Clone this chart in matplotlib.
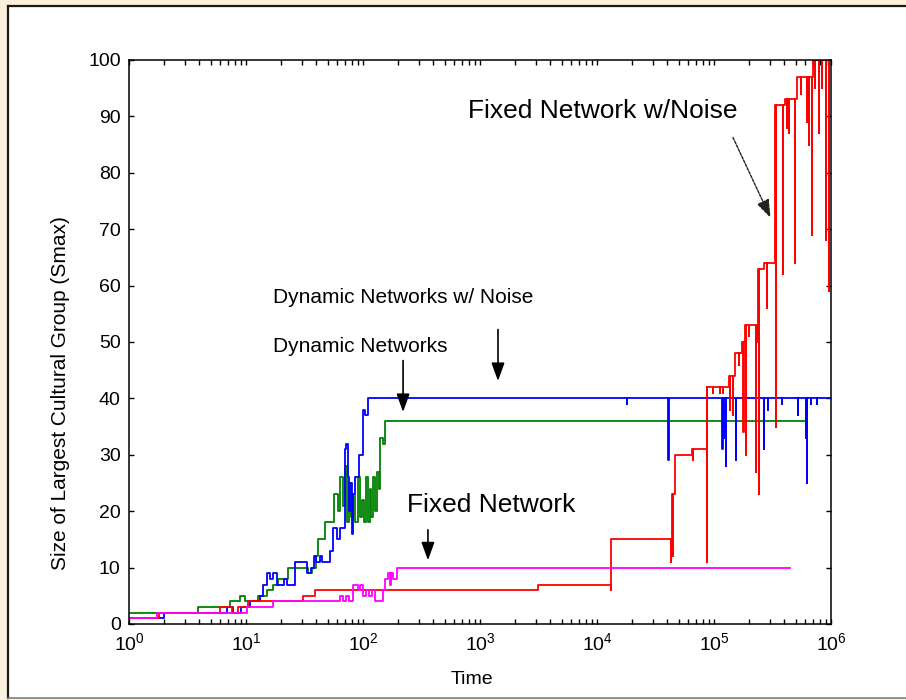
import numpy as np
import matplotlib
matplotlib.use("Agg")
import matplotlib.pyplot as plt
from matplotlib.patches import Rectangle
from matplotlib.lines import Line2D
from matplotlib.ticker import FixedLocator, NullFormatter

# ---- data (time, size of largest group) ----
green_t = [1, 3.9, 7.3, 8.9, 9.8, 12.7, 15, 17, 18.6, 22.8, 34, 37, 40, 41, 47, 57, 61, 64, 67, 70,
           73, 76, 79, 82, 86, 90, 94, 98, 102, 106, 110, 114, 118, 122, 126, 131, 136, 141, 148, 154]
green_v = [2, 3, 4, 5, 4, 5, 6, 7, 8, 10, 9, 10, 12, 15, 18, 23, 20, 26, 21, 28,
           18, 25, 19, 23, 18, 26, 19, 22, 18, 26, 18, 24, 19, 26, 20, 27, 24, 33, 32, 36]
green_end = 6.2e5

blue_t = [1, 2, 6.9, 7.8, 9, 10.8, 13.1, 14, 15, 16, 17, 18.5, 21, 22.5, 26.3, 33, 36, 38, 40, 43,
          45, 52, 55, 60, 64, 70, 72, 74, 76, 78, 80, 82, 86, 92, 100, 104, 110]
blue_v = [1, 2, 3, 2, 3, 4, 5, 7, 9, 8, 9, 7, 8, 7, 11, 9, 10, 12, 11, 12,
          11, 13, 17, 15, 17, 31, 32, 26, 20, 25, 16, 23, 26, 30, 38, 37, 40]
blue_dip_t = [1.8e4, 4.07e4, 1.18e5, 1.22e5, 1.26e5, 1.54e5, 2.65e5, 2.87e5, 3.78e5, 5.19e5,
              6.1e5, 6.25e5, 6.75e5, 7.6e5]
blue_dip_v = [39, 29, 31, 33, 28, 29, 31, 38, 39, 37, 33, 25, 39, 39]
blue_end = 1e6

red_t = [1, 1.8, 6.0, 7.6, 8.5, 10.4, 30.6, 39, 3150, 13300, 44000, 46000, 64900, 86500,
         1.35e5, 1.51e5, 1.73e5, 1.84e5, 2.39e5, 2.7e5, 3.32e5, 4.05e5, 5.08e5, 7.07e5]
red_v = [1, 2, 3, 2, 3, 4, 5, 6, 7, 15, 23, 30, 31, 42, 44, 48, 50, 53, 63, 64, 92, 93, 97, 100]
red_dip_t = [1.31e4, 4.3e4, 4.45e4, 6.6e4, 8.75e4, 9.75e4, 1.12e5, 1.2e5, 1.37e5, 1.45e5,
             1.62e5, 1.78e5, 1.88e5, 2.0e5, 2.27e5, 2.35e5, 2.42e5, 2.85e5, 3.36e5, 3.9e5,
             4.2e5, 4.35e5, 4.9e5, 5.5e5, 6.25e5, 6.45e5, 6.9e5, 7.3e5, 7.9e5, 8.4e5,
             9.0e5, 9.65e5]
red_dip_v = [6, 11, 12, 29, 11, 41, 41, 41, 38, 37,
             46, 34, 30, 51, 27, 50, 23, 56, 35, 62,
             88, 87, 64, 94, 89, 85, 69, 95, 87, 95,
             68, 59]
red_end = 1e6

mag_t = [1, 1.73, 10.1, 16.9, 63, 68, 72, 76, 82, 90, 95, 100, 106, 112, 120, 126, 148, 155,
         163, 170, 175, 182, 194]
mag_v = [1, 2, 3, 4, 5, 4, 5, 4, 7, 6, 7, 5, 6, 5, 6, 4, 6, 8, 9, 7, 9, 8, 10]
mag_end = 4.47e5

xticks = [1e0, 1e1, 1e2, 1e3, 1e4, 1e5, 1e6]
yticks = list(range(0, 101, 10))


def steps(ts, vs, t_end, dip_t=(), dip_v=()):
    # step curve with short dips back to the current level
    pts = list(zip(ts, vs))
    for td, vd in zip(dip_t, dip_v):
        i = np.searchsorted(ts, td, side="right") - 1
        pts += [(td, vd), (td * 1.004, vs[i])]
    pts.sort()
    t = [p[0] for p in pts] + [t_end]
    v = [p[1] for p in pts] + [pts[-1][1]]
    return t, v


plt.rcParams["font.family"] = ["Liberation Sans", "DejaVu Sans"]

W, H = 906, 700
fig = plt.figure(figsize=(W / 100, H / 100), dpi=100, facecolor="#FAF0DC")

# white panel with a dark frame on top/left
fig.add_artist(Rectangle((8 / W, 2 / H), 1, 1 - 8 / H, transform=fig.transFigure,
                         facecolor="white", edgecolor="none", zorder=0))
fig.add_artist(Line2D([8 / W, 1], [1 - 6 / H, 1 - 6 / H], transform=fig.transFigure,
                      color="#1a1a1a", lw=1.6))
fig.add_artist(Line2D([8 / W, 8 / W], [2 / H, 1 - 6 / H], transform=fig.transFigure,
                      color="#1a1a1a", lw=1.6))
fig.add_artist(Line2D([8 / W, 1], [2 / H, 2 / H], transform=fig.transFigure,
                      color="#808080", lw=1.2))

ax = fig.add_axes([129 / W, 1 - 624 / H, 702 / W, 564 / H])
ax.set_facecolor("white")

lw = 1.3
t, v = steps(green_t, green_v, green_end)
ax.plot(t, v, drawstyle="steps-post", color="#008000", lw=lw)
t, v = steps(blue_t, blue_v, blue_end, blue_dip_t, blue_dip_v)
ax.plot(t, v, drawstyle="steps-post", color="#0000FF", lw=lw)
t, v = steps(red_t, red_v, red_end, red_dip_t, red_dip_v)
ax.plot(t, v, drawstyle="steps-post", color="#FF0000", lw=lw)
t, v = steps(mag_t, mag_v, mag_end)
ax.plot(t, v, drawstyle="steps-post", color="#FF00FF", lw=lw)

ax.set_xscale("log")
ax.set_xlim(1, 1e6)
ax.set_ylim(0, 100)
ax.set_xticks(xticks)
ax.set_yticks(yticks)
minors = [m * d for d in xticks[:-1] for m in range(2, 10)]
ax.xaxis.set_minor_locator(FixedLocator(minors))
ax.xaxis.set_minor_formatter(NullFormatter())
ax.tick_params(which="both", direction="in", top=True, right=True, length=3.8, width=1.0,
               labelsize=14, colors="black")
ax.tick_params(axis="x", pad=6)
ax.tick_params(axis="y", pad=6)
for s in ax.spines.values():
    s.set_linewidth(1.1)

ax.set_xlabel("Time", fontsize=14, va="center")
ax.xaxis.set_label_coords(0.489, -0.098)
ax.set_ylabel("Size of Largest Cultural Group (Smax)", fontsize=15, va="center")
ax.yaxis.set_label_coords(-0.098, 0.41)

# annotations
ax.text(789, 89.7, "Fixed Network w/Noise", fontsize=19, ha="left", va="baseline")
ax.text(238, 19.9, "Fixed Network", fontsize=19, ha="left", va="baseline")
ax.text(17, 56.9, "Dynamic Networks w/ Noise", fontsize=15, ha="left", va="baseline")
ax.text(17, 48.3, "Dynamic Networks", fontsize=15, ha="left", va="baseline")

head = "-|>,head_length=0.55,head_width=0.2"
ax.annotate("", xy=(220, 37.1), xytext=(220, 47.2),
            arrowprops=dict(arrowstyle=head, color="black", lw=1.2, mutation_scale=20))
ax.annotate("", xy=(1425, 42.6), xytext=(1425, 52.7),
            arrowprops=dict(arrowstyle=head, color="black", lw=1.2, mutation_scale=20))
ax.annotate("", xy=(359, 10.8), xytext=(359, 17.2),
            arrowprops=dict(arrowstyle=head, color="black", lw=1.2, mutation_scale=20))
ax.annotate("", xy=(3.11e5, 71.6), xytext=(1.42e5, 86.7),
            arrowprops=dict(arrowstyle=head, color="#222222", lw=1.0, mutation_scale=20,
                            linestyle=(0, (2, 1))))

fig.savefig("out.png", dpi=100, facecolor=fig.get_facecolor())
